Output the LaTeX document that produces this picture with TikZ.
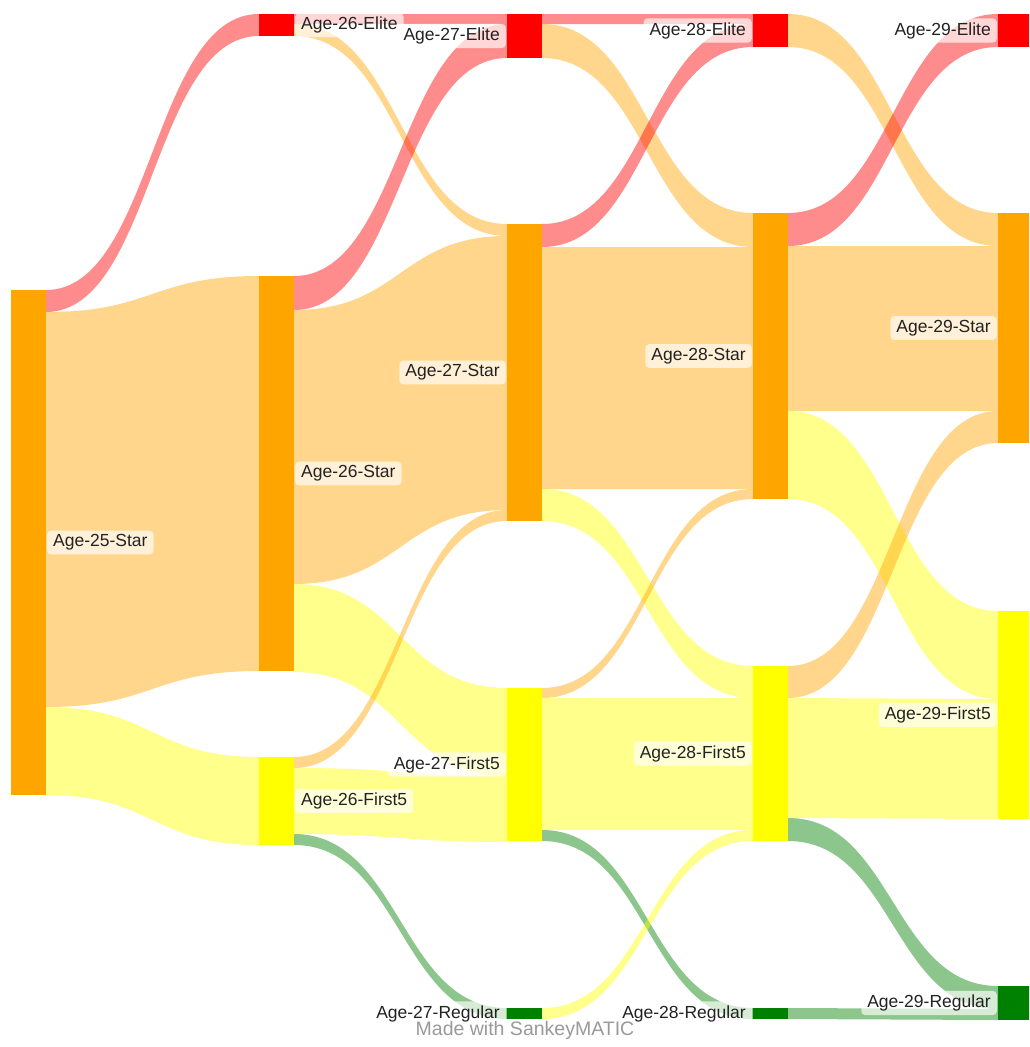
\documentclass[tikz,border=0pt]{standalone}
\usepackage{fontspec}
\setmainfont{Liberation Sans}
\usetikzlibrary{positioning,calc}

\definecolor{elite}{HTML}{FF0000}
\definecolor{star}{HTML}{FFA500}
\definecolor{first}{HTML}{FFFF00}
\definecolor{regular}{HTML}{008000}
\definecolor{labtext}{HTML}{222222}
\definecolor{credit}{HTML}{999999}

\tikzset{
  bar/.style={rectangle, inner sep=0pt, outer sep=0pt, minimum width=35pt, anchor=north west, fill=#1},
  lab/.style={fill=white, fill opacity=.65, text opacity=1, text=labtext, rounded corners=4pt,
    inner xsep=6pt, inner ysep=4pt, font=\fontsize{17.5}{20}\selectfont},
}

% band from (source, offset) to (target, offset), width, colour
\newcommand{\sflow}[6]{%
  \fill[#6, fill opacity=.45]
    let \p1=($(#1.north east)+(0,#2)$), \p2=($(#3.north west)+(0,#4)$),
        \p3=($(\p1)!.5!(\p2)$), \p4=($(\p1)+(0,#5)$), \p5=($(\p2)+(0,#5)$) in
    (\p1) .. controls (\x3,\y1) and (\x3,\y2) .. (\p2) -- (\p5)
    .. controls (\x3,\y5) and (\x3,\y4) .. (\p4) -- cycle;}

\begin{document}
\begin{tikzpicture}[x=1pt, y=-1pt]
\useasboundingbox (0,0) rectangle (1029,1047);
\clip (0,0) rectangle (1029,1047);

% bars
\node[bar=star, minimum height=505pt] (s25) at (11,290) {};
\node[bar=elite, minimum height=22pt] (e26) at (259,14) {};
\node[bar=star, minimum height=395pt] (s26) at (259,276) {};
\node[bar=first, minimum height=88pt] (f26) at (259,757) {};
\node[bar=elite, minimum height=44pt] (e27) at (507,14) {};
\node[bar=star, minimum height=297pt] (s27) at (507,224) {};
\node[bar=first, minimum height=153pt] (f27) at (507,688) {};
\node[bar=regular, minimum height=11pt] (r27) at (507,1008) {};
\node[bar=elite, minimum height=33pt] (e28) at (753,14) {};
\node[bar=star, minimum height=286pt] (s28) at (753,213) {};
\node[bar=first, minimum height=175pt] (f28) at (753,666) {};
\node[bar=regular, minimum height=11pt] (r28) at (753,1008) {};
\node[bar=elite, minimum height=33pt] (e29) at (998,14) {};
\node[bar=star, minimum height=230pt] (s29) at (998,213) {};
\node[bar=first, minimum height=208pt] (f29) at (998,611) {};
\node[bar=regular, minimum height=34pt] (r29) at (998,986) {};

% age 25 -> 26
\sflow{s25}{0}{e26}{0}{22}{elite}
\sflow{s25}{22}{s26}{0}{395}{star}
\sflow{s25}{417}{f26}{0}{88}{first}
% age 26 -> 27
\sflow{e26}{0}{e27}{0}{10}{elite}
\sflow{e26}{10}{s27}{0}{12}{star}
\sflow{s26}{0}{e27}{10}{34}{elite}
\sflow{s26}{34}{s27}{12}{274}{star}
\sflow{s26}{308}{f27}{0}{88}{first}
\sflow{f26}{0}{s27}{286}{11}{star}
\sflow{f26}{11}{f27}{88}{66}{first}
\sflow{f26}{77}{r27}{0}{11}{regular}
% age 27 -> 28
\sflow{e27}{0}{e28}{0}{10}{elite}
\sflow{e27}{10}{s28}{0}{34}{star}
\sflow{s27}{0}{e28}{10}{23}{elite}
\sflow{s27}{23}{s28}{34}{242}{star}
\sflow{s27}{265}{f28}{0}{32}{first}
\sflow{f27}{0}{s28}{276}{10}{star}
\sflow{f27}{10}{f28}{32}{132}{first}
\sflow{f27}{142}{r28}{0}{11}{regular}
\sflow{r27}{0}{f28}{164}{11}{first}
% age 28 -> 29
\sflow{e28}{0}{s29}{0}{33}{star}
\sflow{s28}{0}{e29}{0}{33}{elite}
\sflow{s28}{33}{s29}{33}{165}{star}
\sflow{s28}{198}{f29}{0}{88}{first}
\sflow{f28}{0}{s29}{198}{32}{star}
\sflow{f28}{32}{f29}{88}{120}{first}
\sflow{f28}{152}{r29}{0}{23}{regular}
\sflow{r28}{0}{r29}{23}{11}{regular}

% labels
\node[lab, right=1pt of s25] (ls25) {Age-25-Star};
\node[lab, right=1pt of e26] (le26) {Age-26-Elite};
\node[lab, right=1pt of s26] (ls26) {Age-26-Star};
\node[lab, right=1pt of f26] (lf26) {Age-26-First5};
\node[lab, left=1pt of e27] (le27) {Age-27-Elite};
\node[lab, left=1pt of s27] (ls27) {Age-27-Star};
\node[lab, left=1pt of f27] (lf27) {Age-27-First5};
\node[lab, left=1pt of r27] (lr27) {Age-27-Regular};
\node[lab, left=1pt of e28] (le28) {Age-28-Elite};
\node[lab, left=1pt of s28] (ls28) {Age-28-Star};
\node[lab, left=1pt of f28] (lf28) {Age-28-First5};
\node[lab, left=1pt of r28] (lr28) {Age-28-Regular};
\node[lab, left=1pt of e29] (le29) {Age-29-Elite};
\node[lab, left=1pt of s29] (ls29) {Age-29-Star};
\node[lab, left=1pt of f29] (lf29) {Age-29-First5};
\node[lab, left=1pt of r29] (lr29) {Age-29-Regular};

\node[font=\fontsize{19.5}{22}\selectfont, text=credit, anchor=base] (credit) at (525,1035) {Made with SankeyMATIC};
\end{tikzpicture}
\end{document}
